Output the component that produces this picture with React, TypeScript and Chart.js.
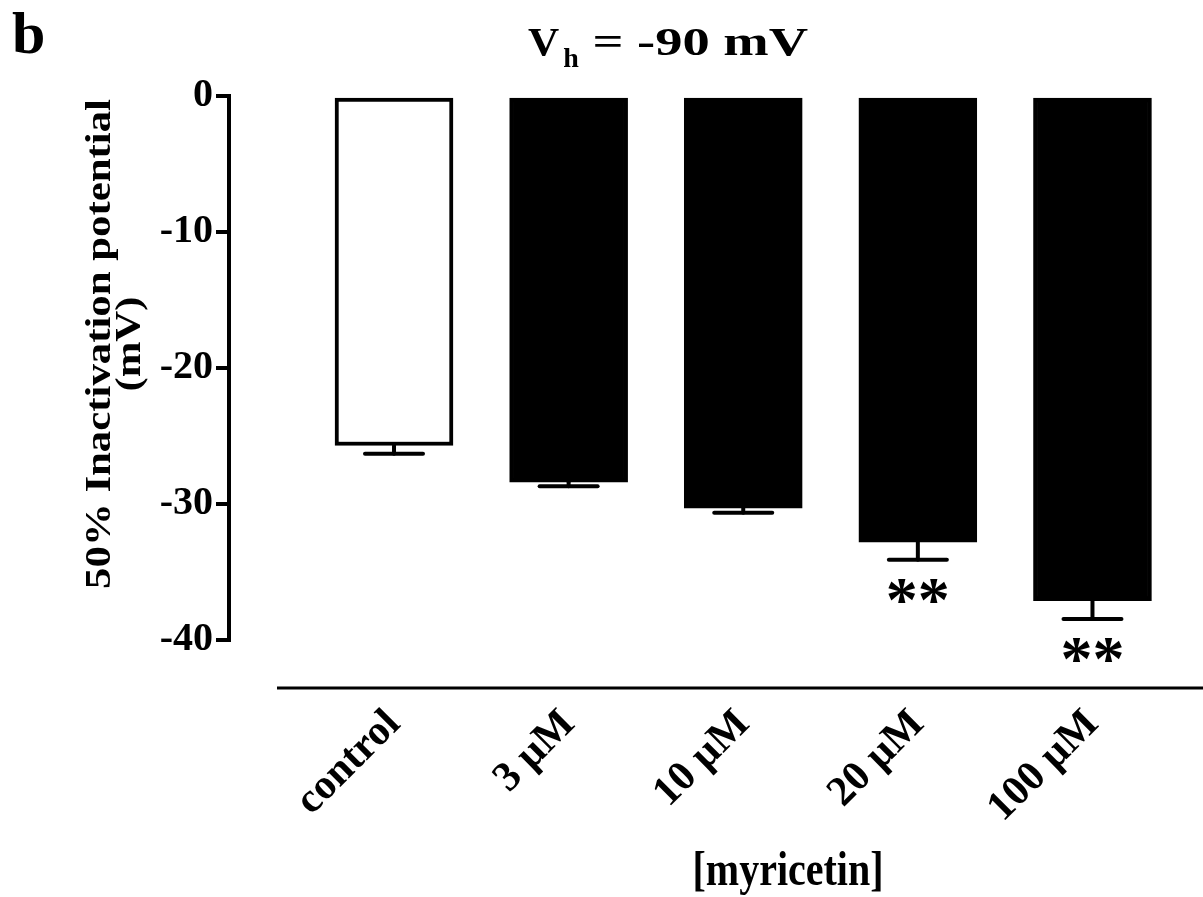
import React, { useEffect, useRef } from 'react';
import { Chart, registerables } from 'chart.js';

Chart.register(...registerables);

// ---- data ----
const categories = ['control', '3 µM', '10 µM', '20 µM', '100 µM'];
const categoryIndex = [0, 1, 2, 3, 4];
const meanValues = [-25.7, -28.4, -30.3, -32.8, -37.1];
const semValues = [0.6, 0.3, 0.35, 1.3, 1.35];
const significance = ['', '', '', '**', '**'];
const barFills = ['#ffffff', '#000000', '#000000', '#000000', '#000000'];
const yTickValues = [0, -10, -20, -30, -40];
const yTitleLines = ['50% Inactivation potential', '(mV)'];
const xTitle = '[myricetin]';
const panelLabel = 'b';
const titleMain = 'V';
const titleSub = 'h';
const titleRest = ' = -90 mV';

const SERIF = '"Liberation Serif", "Times New Roman", Times, serif';
const labelShift = 0;

const figurePlugin = {
  id: 'figureExtras',
  afterDatasetsDraw(chart: any) {
    const { ctx } = chart;
    const x = chart.scales.x;
    const y = chart.scales.y;
    ctx.save();
    ctx.strokeStyle = '#000';
    ctx.fillStyle = '#000';
    ctx.lineWidth = 4;
    ctx.lineCap = 'round';
    categoryIndex.forEach((c, i) => {
      const px = x.getPixelForValue(c);
      const yTop = y.getPixelForValue(meanValues[i]);
      const yBot = y.getPixelForValue(meanValues[i] - semValues[i]);
      ctx.beginPath();
      ctx.moveTo(px, yTop);
      ctx.lineTo(px, yBot);
      ctx.stroke();
      ctx.beginPath();
      ctx.moveTo(px - 29, yBot);
      ctx.lineTo(px + 29, yBot);
      ctx.stroke();
      if (significance[i]) {
        ctx.font = `bold 64px ${SERIF}`;
        ctx.textAlign = 'center';
        ctx.textBaseline = 'alphabetic';
        const m = ctx.measureText(significance[i]);
        const inkH = m.actualBoundingBoxAscent + m.actualBoundingBoxDescent;
        const cy = yBot + 31;
        ctx.fillText(significance[i], px, cy + inkH / 2 - m.actualBoundingBoxDescent);
      }
    });
    ctx.restore();
  },
  afterDraw(chart: any) {
    const { ctx, chartArea } = chart;
    ctx.save();
    ctx.fillStyle = '#000';
    ctx.strokeStyle = '#000';

    // x axis baseline
    ctx.lineWidth = 3;
    ctx.beginPath();
    ctx.moveTo(277, chartArea.bottom + 48);
    ctx.lineTo(chart.width, chartArea.bottom + 48);
    ctx.stroke();

    // panel label
    ctx.font = `bold 60px ${SERIF}`;
    ctx.textAlign = 'left';
    ctx.textBaseline = 'alphabetic';
    ctx.fillText(panelLabel, 12, 53);

    // title V_h = -90 mV
    ctx.font = `bold 40px ${SERIF}`;
    const vW = ctx.measureText(titleMain).width;
    ctx.save();
    ctx.translate(528, 55);
    ctx.scale(1.08, 1);
    ctx.fillText(titleMain, 0, 0);
    ctx.restore();
    const hx = 528 + vW * 1.08 + 4;
    ctx.font = `bold 28px ${SERIF}`;
    const hW = ctx.measureText(titleSub).width;
    ctx.fillText(titleSub, hx, 67);
    ctx.font = `bold 40px ${SERIF}`;
    const restStart = hx + hW;
    const restW = ctx.measureText(titleRest).width;
    const sx = (808 - restStart) / restW;
    ctx.save();
    ctx.translate(restStart, 55);
    ctx.scale(sx, 1);
    ctx.fillText(titleRest, 0, 0);
    ctx.restore();

    // y title
    ctx.font = `bold 40px ${SERIF}`;
    ctx.textAlign = 'center';
    ctx.textBaseline = 'middle';
    const lineX = [101, 131];
    yTitleLines.forEach((line, i) => {
      ctx.save();
      ctx.translate(lineX[i], 344);
      ctx.rotate(-Math.PI / 2);
      ctx.scale(1.07, 0.9);
      ctx.fillText(line, 0, 0);
      ctx.restore();
    });

    // x title
    ctx.save();
    ctx.textAlign = 'center';
    ctx.textBaseline = 'alphabetic';
    ctx.translate(788, 885);
    ctx.scale(1, 1.2);
    ctx.fillText(xTitle, 0, 0);
    ctx.restore();

    ctx.restore();
  },
};

export default function App() {
  const ref = useRef<HTMLCanvasElement>(null);
  useEffect(() => {
    const canvas = ref.current!;
    const chart = new Chart(canvas, {
      type: 'bar',
      data: {
        datasets: [
          {
            data: categoryIndex.map((c, i) => ({ x: c, y: meanValues[i] })),
            backgroundColor: barFills,
            borderColor: '#000000',
            borderWidth: 4,
            borderSkipped: false,
            barThickness: 118,
          } as any,
        ],
      },
      options: {
        responsive: false,
        animation: false,
        devicePixelRatio: 1,
        layout: { padding: { top: 96, left: 0, right: 0, bottom: 0 } },
        plugins: {
          legend: { display: false },
          tooltip: { enabled: false },
          title: { display: false },
        },
        scales: {
          x: {
            type: 'linear',
            position: 'bottom',
            offset: false,
            min: -0.945,
            max: 4.633,
            grid: { display: false, drawTicks: false, offset: false },
            border: { display: false },
            afterBuildTicks: (s: any) => {
              s.ticks = categoryIndex.map((v) => ({ value: v + labelShift }));
            },
            afterFit: (s: any) => {
              s.height = 257;
              s.paddingLeft = 0;
              s.paddingRight = 0;
            },
            ticks: {
              autoSkip: false,
              minRotation: 45,
              maxRotation: 45,
              padding: 60,
              color: '#000000',
              font: { family: SERIF, size: 42, weight: 'bold' },
              callback: (v: any) => {
                const i = Math.round(Number(v) - labelShift);
                return categories[i] ?? '';
              },
            },
          },
          y: {
            type: 'linear',
            min: -40,
            max: 0,
            afterBuildTicks: (s: any) => {
              s.ticks = yTickValues.map((v) => ({ value: v }));
            },
            afterFit: (s: any) => {
              s.width = 229;
              s.paddingTop = 0;
              s.paddingBottom = 0;
            },
            grid: {
              drawOnChartArea: false,
              drawTicks: true,
              tickLength: 13,
              tickWidth: 4,
              tickColor: '#000000',
              color: '#000000',
              lineWidth: 4,
            },
            border: { display: true, width: 4, color: '#000000' },
            ticks: {
              padding: 3,
              color: '#000000',
              font: { family: SERIF, size: 40, weight: 'bold' },
              callback: (v: any) => String(v),
            },
          },
        },
      } as any,
      plugins: [figurePlugin],
    });
    return () => chart.destroy();
  }, []);
  return (
    <canvas
      ref={ref}
      width={1203}
      height={897}
      style={{ position: 'absolute', left: 0, top: 0, width: 1203, height: 897 }}
    />
  );
}
